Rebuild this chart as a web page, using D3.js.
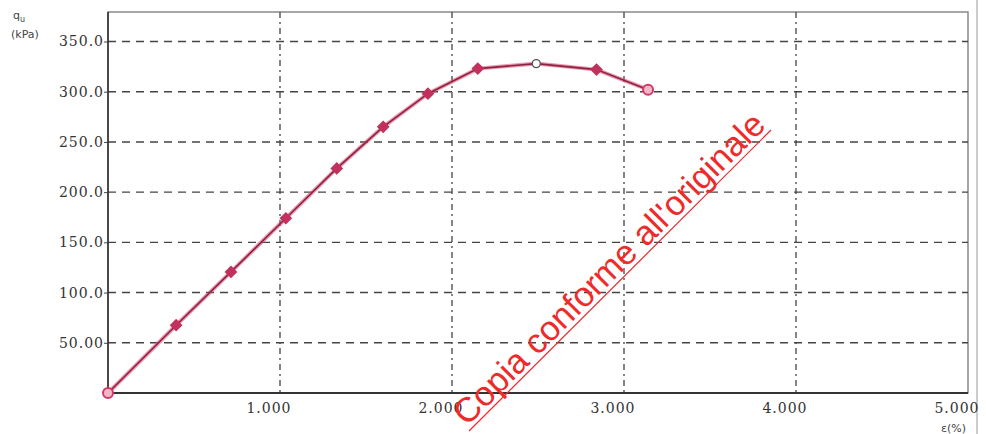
<!DOCTYPE html>
<html><head><meta charset="utf-8">
<script src="https://cdn.jsdelivr.net/npm/d3@7"></script>
<style>body{margin:0;background:#fff}svg{display:block}</style>
</head><body>
<svg id="c" width="986" height="434"></svg>
<script>
// ---- data ----
const strain = [0, 0.396, 0.715, 1.034, 1.33, 1.60, 1.86, 2.15, 2.49, 2.84, 3.14];
const stress = [0, 67.5, 120.6, 174, 223.6, 265, 298, 323, 328, 322, 302];
const yTicks = [50, 100, 150, 200, 250, 300, 350];
const yTickLabels = ["50.00", "100.0", "150.0", "200.0", "250.0", "300.0", "350.0"];
const xTicks = [1, 2, 3, 4, 5];
const xTickLabels = ["1.000", "2.000", "3.000", "4.000", "5.000"];
const yTitle = ["q", "u", "(kPa)"];
const xTitle = "ε(%)";
const watermark = "Copia conforme all'originale";

const svg = d3.select("#c");
const L = 108, R = 968, T = 12, B = 393;
const x = d3.scaleLinear().domain([0, 5]).range([L, R]);
const y = d3.scaleLinear().domain([0, 350]).range([B, 41.5]);

// frame
svg.append("rect").attr("x", L).attr("y", T).attr("width", R - L).attr("height", B - T)
  .attr("fill", "none").attr("stroke", "#777").attr("stroke-width", 1.3);
svg.append("line").attr("x1", 977).attr("x2", 977).attr("y1", 0).attr("y2", 434)
  .attr("stroke", "#bbb").attr("stroke-width", 1.5);

// grid
svg.append("g").selectAll("line").data(yTicks).join("line")
  .attr("x1", L).attr("x2", R).attr("y1", d => y(d)).attr("y2", d => y(d))
  .attr("stroke", "#444").attr("stroke-width", 1.4).attr("stroke-dasharray", "8,6");
svg.append("g").selectAll("line").data(xTicks.filter(d => d < 5)).join("line")
  .attr("x1", d => x(d)).attr("x2", d => x(d)).attr("y1", T).attr("y2", B)
  .attr("stroke", "#444").attr("stroke-width", 1.3).attr("stroke-dasharray", "6,4,2,4");

// axes
const yAxis = d3.axisLeft(y).tickValues(yTicks).tickFormat((d, i) => yTickLabels[i]).tickSize(4).tickPadding(0);
const gy = svg.append("g").attr("transform", `translate(${L},0)`).call(yAxis);
gy.select(".domain").remove();
svg.append("line").attr("x1", L).attr("x2", L).attr("y1", T).attr("y2", B).attr("stroke", "#333").attr("stroke-width", 1.6);
gy.selectAll("text").attr("font-family", "DejaVu Serif").attr("font-size", 14).attr("letter-spacing", 1).attr("fill", "#333");
gy.selectAll("line").attr("stroke", "#444");

const xAxis = d3.axisBottom(x).tickValues(xTicks).tickFormat((d, i) => xTickLabels[i]).tickSize(0);
const gx = svg.append("g").attr("transform", `translate(0,${B})`).call(xAxis);
gx.select(".domain").remove();
svg.append("line").attr("x1", L).attr("x2", R).attr("y1", B).attr("y2", B).attr("stroke", "#333").attr("stroke-width", 2);
gx.selectAll("text").attr("font-family", "DejaVu Serif").attr("font-size", 14).attr("letter-spacing", 1)
  .attr("fill", "#333").attr("text-anchor", "end").attr("dx", 11).attr("y", 20).attr("dy", 0);

// titles
const yt = svg.append("text").attr("x", 13).attr("y", 19).attr("font-family", "DejaVu Sans").attr("font-size", 11).attr("fill", "#444");
yt.append("tspan").text(yTitle[0]);
yt.append("tspan").attr("font-size", 8).attr("dy", 3).text(yTitle[1]);
svg.append("text").attr("x", 11).attr("y", 38).attr("font-family", "DejaVu Sans").attr("font-size", 11).attr("fill", "#444").text(yTitle[2]);
svg.append("text").attr("x", 966).attr("y", 432).attr("text-anchor", "end").attr("font-family", "DejaVu Sans").attr("font-size", 11).attr("fill", "#444").text(xTitle);

// series
const pts = strain.map((s, i) => [s, stress[i]]);
const line = d3.line().x(d => x(d[0])).y(d => y(d[1]));
svg.append("path").datum(pts).attr("d", line).attr("fill", "none").attr("stroke", "#e2507c").attr("stroke-width", 4).attr("opacity", 0.6);
svg.append("path").datum(pts).attr("d", line).attr("fill", "none").attr("stroke", "#8a2540").attr("stroke-width", 1.6);

const mk = svg.append("g");
pts.forEach((d, i) => {
  const cx = x(d[0]), cy = y(d[1]);
  if (i === 8) {
    mk.append("circle").attr("cx", cx).attr("cy", cy).attr("r", 4).attr("fill", "#fff").attr("stroke", "#555").attr("stroke-width", 1.3);
  } else if (i === pts.length - 1 || i === 0) {
    mk.append("circle").attr("cx", cx).attr("cy", cy).attr("r", 5).attr("fill", "#f3b5c8").attr("stroke", "#d23a66").attr("stroke-width", 2);
  } else {
    mk.append("rect").attr("x", cx - 4.5).attr("y", cy - 4.5).attr("width", 9).attr("height", 9)
      .attr("fill", "#c2305c").attr("transform", `rotate(45,${cx},${cy})`);
  }
});

// watermark
const wm = svg.append("g").attr("transform", "translate(467,427) rotate(-45)");
wm.append("text").attr("x", 0).attr("y", 0).attr("font-family", "Liberation Sans").attr("font-size", 34.5)
  .attr("fill", "#ee2a2a").text(watermark);
svg.append("line").attr("x1", 469).attr("y1", 431).attr("x2", 771).attr("y2", 130).attr("stroke", "#ee2a2a").attr("stroke-width", 1.2);
</script>
</body></html>
